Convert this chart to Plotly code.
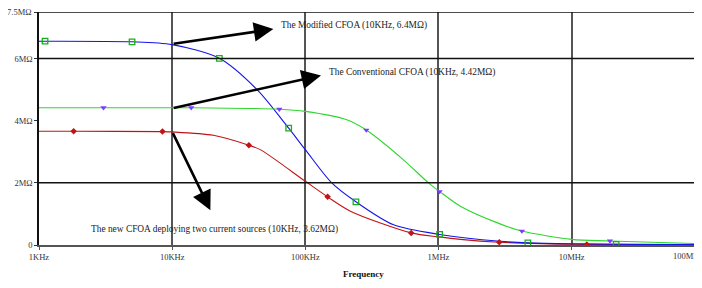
import plotly.graph_objects as go

# ---- data (frequency in Hz, resistance in MOhm) ----
mod_freq = [1000, 5000, 10000, 22600, 43400, 75000, 100000, 158000, 240000, 460000, 1020000, 2900000, 4690000, 1e7, 3.16e7, 1e8]
mod_val = [6.56, 6.54, 6.45, 6.01, 5.0, 3.76, 3.07, 2.0, 1.39, 0.65, 0.34, 0.12, 0.07, 0.04, 0.02, 0.01]
mod_mk_freq = [1110, 5000, 22600, 75000, 240000, 1020000, 4690000, 2.16e7]
mod_mk_val = [6.56, 6.54, 6.01, 3.76, 1.39, 0.34, 0.07, 0.02]

conv_freq = [1000, 13900, 63800, 100000, 205000, 287000, 543000, 841000, 1020000, 1460000, 2900000, 4230000, 1e7, 1.94e7, 1e8]
conv_val = [4.42, 4.42, 4.37, 4.30, 4.03, 3.70, 2.75, 2.0, 1.72, 1.25, 0.68, 0.45, 0.18, 0.13, 0.04]
conv_mk_freq = [3050, 13900, 63800, 287000, 1020000, 4230000, 1.94e7, 8.8e7]
conv_mk_val = [4.42, 4.42, 4.37, 3.70, 1.72, 0.45, 0.13, 0.04]

new_freq = [1000, 1820, 8450, 10000, 20400, 37700, 45900, 100000, 147000, 218000, 624000, 1010000, 1460000, 2860000, 1.3e7, 1e8]
new_val = [3.66, 3.66, 3.65, 3.64, 3.53, 3.21, 3.07, 2.05, 1.55, 1.09, 0.39, 0.26, 0.18, 0.09, 0.02, 0.01]
new_mk_freq = [1820, 8450, 37700, 147000, 624000, 2860000, 1.3e7]
new_mk_val = [3.66, 3.65, 3.21, 1.55, 0.39, 0.09, 0.02]

x_tickvals = [1e3, 1e4, 1e5, 1e6, 1e7, 1e8]
x_ticktext = ["1KHz", "10KHz", "100KHz", "1MHz", "10MHz", "100MHz"]
y_tickvals = [0, 2, 4, 6, 7.5]
y_ticktext = ["0", "2MΩ", "4MΩ", "6MΩ", "7.5MΩ"]

FONT = "Liberation Serif"
TICKFONT = dict(family=FONT, size=8.5, color="#333333")
X_RANGE = [3, 7.979]

fig = go.Figure()
line_kw = dict(mode="lines", line_shape="spline", hoverinfo="skip", showlegend=False)
fig.add_trace(go.Scatter(x=new_freq, y=new_val, line=dict(color="#c01414", width=1.1, smoothing=0.8), **line_kw))
fig.add_trace(go.Scatter(x=mod_freq, y=mod_val, line=dict(color="#1414e6", width=1.1, smoothing=0.8), **line_kw))
fig.add_trace(go.Scatter(x=conv_freq, y=conv_val, line=dict(color="#2ed62e", width=1.1, smoothing=0.8), **line_kw))

fig.add_trace(go.Scatter(x=mod_mk_freq, y=mod_mk_val, mode="markers", showlegend=False,
                         marker=dict(symbol="square-open", size=5.5, color="#18b018", line=dict(width=1.3))))
fig.add_trace(go.Scatter(x=conv_mk_freq, y=conv_mk_val, mode="markers", showlegend=False,
                         marker=dict(symbol="triangle-down", size=5.5, color="#7a3cff")))
fig.add_trace(go.Scatter(x=new_mk_freq, y=new_mk_val, mode="markers", showlegend=False,
                         marker=dict(symbol="diamond", size=5, color="#c01414")))

# horizontal grid lines (only at 2M, 6M and top)
for yv in [2, 6, 7.5]:
    fig.add_shape(type="line", xref="paper", x0=0, x1=1, yref="y", y0=yv, y1=yv,
                  line=dict(color="#111111", width=1.5))

# arrows (tail at the 10KHz point of each curve)
arrows = [
    (4.76, 6.95, 4.0, 6.47),
    (5.118, 5.46, 4.0, 4.40),
    (4.287, 1.12, 4.0, 3.65),
]
for hx, hy, tx, ty in arrows:
    fig.add_annotation(x=hx, y=hy, ax=tx, ay=ty, xref="x", yref="y", axref="x", ayref="y",
                       text="", showarrow=True, arrowhead=2, arrowsize=1.5, arrowwidth=2.6,
                       arrowcolor="#000000", standoff=0)

labels = [
    (4.805, 7.08, "The Modified CFOA (10KHz, 6.4MΩ)"),
    (5.165, 5.54, "The Conventional CFOA (10KHz, 4.42MΩ)"),
    (3.379, 0.50, "The new CFOA deploying two current sources (10KHz, 3.62MΩ)"),
]
for lx, ly, t in labels:
    fig.add_annotation(x=lx, y=ly, xref="x", yref="y", text=t, showarrow=False,
                       xanchor="left", yanchor="middle",
                       font=dict(family=FONT, size=9.4, color="#222222"))

# top y label (placed as annotation so it is not dropped at the edge)
fig.add_annotation(x=0, xref="paper", y=y_tickvals[-1], yref="y", text=y_ticktext[-1],
                   showarrow=False, xanchor="right", yanchor="middle", xshift=-5,
                   font=TICKFONT)
# tick label for 100MHz (just beyond the visible range edge)
x_last_paper = (8 - X_RANGE[0]) / (X_RANGE[1] - X_RANGE[0])
fig.add_annotation(x=x_last_paper, xref="paper", y=0, yref="y", text=x_ticktext[-1], showarrow=False,
                   yanchor="top", yshift=-4, font=TICKFONT)
# axis title
fig.add_annotation(x=0.49, xref="paper", y=0, yref="paper", yshift=-36, text="<b>Frequency</b>",
                   showarrow=False, font=dict(family=FONT, size=9, color="#111111"))

fig.update_layout(
    width=694, height=280,
    margin=dict(l=30.5, r=0, t=4, b=42.5, autoexpand=False),
    paper_bgcolor="white", plot_bgcolor="white",
    xaxis=dict(type="log", range=X_RANGE, tickvals=x_tickvals, ticktext=x_ticktext,
               automargin=False,
               showgrid=True, gridcolor="#555555", gridwidth=1.5,
               showline=True, linecolor="#555555", linewidth=1.5,
               ticks="outside", ticklen=3, tickcolor="#555555", zeroline=False,
               tickfont=TICKFONT),
    yaxis=dict(range=[0, 7.5], tickvals=y_tickvals, ticktext=y_ticktext[:-1] + [""], automargin=False,
               showgrid=False, zeroline=False, showline=True, linecolor="#111111", linewidth=1.5,
               ticks="outside", ticklen=3, tickcolor="#333333",
               tickfont=TICKFONT),
)

fig.write_html("out.html")
